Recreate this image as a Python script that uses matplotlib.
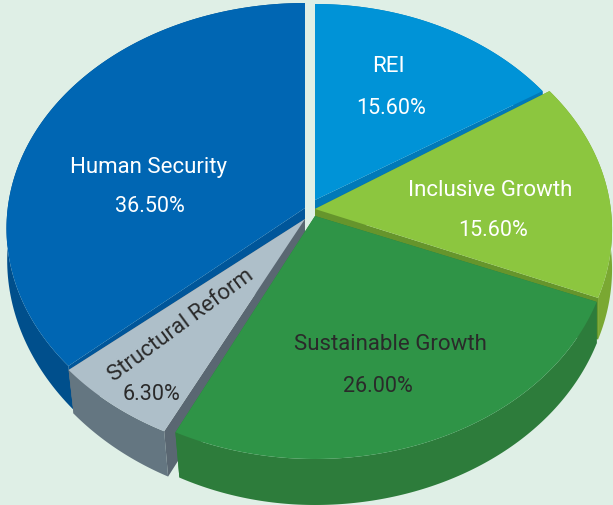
import numpy as np
import matplotlib
matplotlib.use('Agg')
import matplotlib.pyplot as plt

# drawing order goes back to front so nearer slices cover the walls behind them
categories = ['REI', 'Inclusive Growth', 'Sustainable Growth', 'Structural Reform', 'Human Security']
shares = [15.6, 15.6, 26.0, 6.3, 36.5]
draw_order = [0, 4, 1, 3, 2]

top_colors = ['#0093d7', '#8cc63f', '#2f9447', '#aebfc9', '#0066b3']
rim_colors = ['#0079b8', '#7aa832', '#2d7c3b', '#647681', '#004f8c']
cut_colors = ['#0079b8', '#66952c', '#2d7c3b', '#5a6772', '#00569a']
text_colors = ['white', 'white', '#2a2a2a', '#2a2a2a', 'white']

# slice layout in pixels: apex, rim centre, horizontal rim scale
apex = [(315, 200), (315, 209), (315, 216), (305, 219), (305, 208)]
rim_center = [(315, 210), (315, 210), (315, 214), (305, 213), (305, 209)]
rim_scale = [0.98, 1.01, 1.005, 1.014, 1.015]

name_pos = [(388, 66), (490, 190), (390, 344), (181, 326), (149, 167)]
value_pos = [(391, 108), (493, 231), (378, 387), (151, 394), (150, 207)]
name_rotation = [0, 0, 0, 36.5, 0]

PERSP = -0.0865
RX, RY = 293, 223.8


def disc(theta):
    """Tilted disc seen in perspective, theta clockwise from 12 o'clock."""
    u, v = np.sin(theta), np.cos(theta)
    w = 1 - PERSP * v
    return RX * u / w, RY * v / w


def rim_points(i, theta):
    x, y = disc(theta)
    return rim_center[i][0] + rim_scale[i] * x, rim_center[i][1] - y


def lower(x, y, theta):
    # same outline pushed down by the thickness of the pie
    u, v = np.sin(theta), np.cos(theta)
    depth = 39 + 7 * np.maximum(0, -v)
    return x + 10 * np.maximum(0, -u) * np.maximum(0, -v), y + depth


def draw_slice(ax, i, t0, t1):
    theta = np.linspace(t0, t1, 120)
    x, y = rim_points(i, theta)
    xb, yb = lower(x, y, theta)
    ax0, ay0 = apex[i]
    # the two cut faces
    for k in (0, -1):
        ax.fill([ax0, x[k], xb[k], ax0], [ay0, y[k], yb[k], ay0 + 42],
                color=cut_colors[i], lw=0)
    # outer wall, then the top surface
    ax.fill(np.r_[x, xb[::-1]], np.r_[y, yb[::-1]], color=rim_colors[i], lw=0)
    ax.fill(np.r_[ax0, x], np.r_[ay0, y], color=top_colors[i], lw=0)


def main():
    plt.rcParams['font.family'] = ['Roboto', 'DejaVu Sans']
    fig = plt.figure(figsize=(6.13, 5.05), dpi=100, facecolor='#dfefe6')
    ax = fig.add_axes([0, 0, 1, 1])
    ax.set_xlim(0, 613)
    ax.set_ylim(505, 0)
    ax.axis('off')

    edges = np.r_[0, np.cumsum(shares)] / np.sum(shares) * 2 * np.pi
    for i in draw_order:
        draw_slice(ax, i, edges[i], edges[i + 1])

    for i, name in enumerate(categories):
        ax.text(*name_pos[i], name, color=text_colors[i], fontsize=16,
                rotation=name_rotation[i], rotation_mode='anchor',
                ha='center', va='center')
        ax.text(*value_pos[i], f'{shares[i]:.2f}%', color=text_colors[i], fontsize=15.5,
                ha='center', va='center')

    fig.savefig('out.png', dpi=100, facecolor=fig.get_facecolor())
    plt.close(fig)


if __name__ == '__main__':
    main()
